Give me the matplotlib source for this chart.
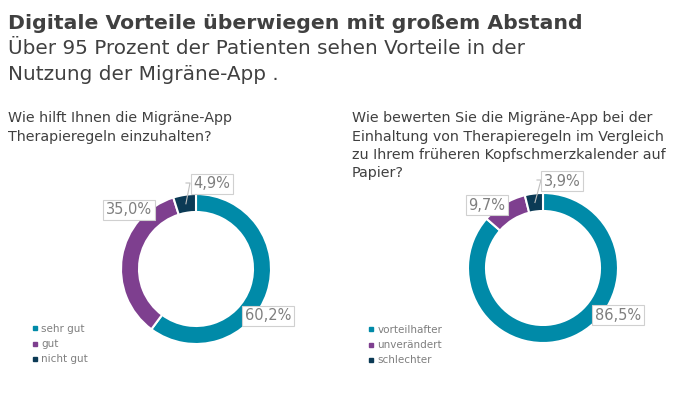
import numpy as np
import matplotlib.pyplot as plt
from matplotlib.lines import Line2D

# data
left_labels = ["sehr gut", "gut", "nicht gut"]
left_values = [60.2, 35.0, 4.9]
right_labels = ["vorteilhafter", "unverändert", "schlechter"]
right_values = [86.5, 9.7, 3.9]
colors = ["#008aa8", "#7e3f8f", "#0b3a55"]

title = "Digitale Vorteile überwiegen mit großem Abstand"
subtitle = ["Über 95 Prozent der Patienten sehen Vorteile in der",
            "Nutzung der Migräne-App ."]
left_q = ["Wie hilft Ihnen die Migräne-App", "Therapieregeln einzuhalten?"]
right_q = ["Wie bewerten Sie die Migräne-App bei der",
           "Einhaltung von Therapieregeln im Vergleich",
           "zu Ihrem früheren Kopfschmerzkalender auf",
           "Papier?"]

W, H = 700, 400
fig = plt.figure(figsize=(7, 4), dpi=100)
ax = fig.add_axes([0, 0, 1, 1])

def fmt(v):
    return f"{v:.1f}%".replace(".", ",")

def donut(values, center, label_pos, leaders):
    cx, cy = center[0], H - center[1]
    r = 75
    ax.pie(values, colors=colors, startangle=90, counterclock=False,
           center=(cx, cy), radius=r,
           wedgeprops=dict(width=18, edgecolor="white", linewidth=1.5))
    total = sum(values)
    start = 90
    for i, v in enumerate(values):
        ang = start - v / total * 360 / 2
        start -= v / total * 360
        lx, ly = label_pos[i]
        ax.text(lx, H - ly, fmt(v), ha="center", va="center", fontsize=10.5, color="#7f7f7f",
                family="DejaVu Sans",
                bbox=dict(boxstyle="square,pad=0.2", fc="white", ec="#d0d0d0", lw=0.8))
        if leaders[i]:
            rm = r - 9
            px = cx + rm * np.cos(np.radians(ang))
            py = cy + rm * np.sin(np.radians(ang))
            bx, by = leaders[i]
            ax.plot([bx - 4, bx, px], [H - by, H - by, py], color="#bfbfbf", lw=0.8, zorder=1)

donut(left_values, (196, 269), [(268, 316), (129, 210), (212, 184)],
      [None, None, (190, 183)])
donut(right_values, (543, 268), [(618, 315), (487, 205), (562, 181)],
      [None, None, (541, 180)])

ax.set_xlim(0, W)
ax.set_ylim(0, H)
ax.set_aspect("auto")
ax.axis("off")

def lines(txts, x, y0, step, **kw):
    for k, t in enumerate(txts):
        fig.text(x / W, 1 - (y0 + k * step) / H, t, va="baseline", ha="left", **kw)

fig.text(8 / W, 1 - 29 / H, title, fontsize=14.7, fontweight="bold", color="#404040",
         family="DejaVu Sans", va="baseline", ha="left")
lines(subtitle, 8, 54, 26, fontsize=14.4, color="#404040", family="DejaVu Sans")
lines(left_q, 8, 122, 18.5, fontsize=10.3, color="#404040", family="DejaVu Sans")
lines(right_q, 352, 122, 18.5, fontsize=10.3, color="#404040", family="DejaVu Sans")

def legend(labels, x, y):
    handles = [Line2D([], [], ls="", marker="s", markersize=3.5, color=c) for c in colors]
    fig.legend(handles, labels, loc="upper left", bbox_to_anchor=(x / W, 1 - y / H),
               frameon=False, fontsize=7.5, labelcolor="#7f7f7f", handlelength=0.5,
               handletextpad=0.4, labelspacing=0.5, borderaxespad=0, borderpad=0)

legend(left_labels, 32, 324)
legend(right_labels, 368, 325)

fig.savefig("out.png", dpi=100, facecolor="white")
